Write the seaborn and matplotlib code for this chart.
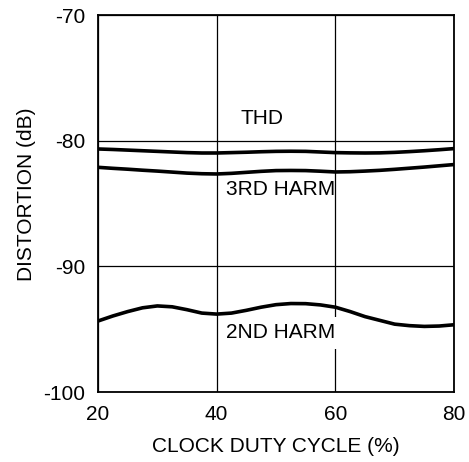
import matplotlib
matplotlib.use("Agg")
import matplotlib.pyplot as plt
import seaborn as sns
import pandas as pd

duty_cycle = [20, 22.5, 25, 27.5, 30, 32.5, 35, 37.5, 40, 42.5, 45, 47.5, 50,
              52.5, 55, 57.5, 60, 62.5, 65, 67.5, 70, 72.5, 75, 77.5, 80]
thd = [-80.66, -80.7, -80.75, -80.8, -80.85, -80.9, -80.95, -80.98, -80.98, -80.95, -80.92, -80.88, -80.85,
       -80.84, -80.85, -80.9, -80.95, -80.97, -80.98, -80.97, -80.93, -80.87, -80.8, -80.72, -80.63]
harm3 = [-82.12, -82.2, -82.27, -82.35, -82.42, -82.5, -82.58, -82.63, -82.65, -82.6, -82.52, -82.44, -82.38,
         -82.37, -82.38, -82.43, -82.49, -82.47, -82.42, -82.36, -82.28, -82.19, -82.1, -82.0, -81.9]
harm2 = [-94.35, -93.95, -93.6, -93.3, -93.15, -93.22, -93.45, -93.72, -93.8, -93.72, -93.5, -93.25, -93.05,
         -92.96, -92.97, -93.07, -93.25, -93.6, -94.0, -94.3, -94.6, -94.72, -94.78, -94.75, -94.65]

series_names = ["THD", "3RD HARM", "2ND HARM"]
x_ticks = [20, 40, 60, 80]
y_ticks = [-100, -90, -80, -70]

df = pd.concat([
    pd.DataFrame({"duty": duty_cycle, "dist": vals, "series": name})
    for name, vals in zip(series_names, [thd, harm3, harm2])
])

sns.set_style("white")
plt.rcParams['font.family'] = ['Liberation Sans', 'DejaVu Sans']
plt.rcParams['axes.unicode_minus'] = False
plt.rcParams['text.color'] = 'black'
plt.rcParams['axes.labelcolor'] = 'black'

fig = plt.figure(figsize=(4.69, 4.62), dpi=100)
ax = fig.add_axes([0.209, 0.1515, 0.759, 0.816])

sns.lineplot(data=df, x="duty", y="dist", hue="series",
             palette=["black"] * 3, linewidth=2.6, legend=False,
             ax=ax, zorder=5)

ax.set_xlim(20, 80)
ax.set_ylim(-100, -70)
ax.set_xticks(x_ticks)
ax.set_yticks(y_ticks)
ax.grid(True, color="black", linewidth=0.9, zorder=1)
ax.tick_params(length=0, labelsize=15, pad=9, colors="black")
for s in ax.spines.values():
    s.set_color("black")
    s.set_linewidth(1.3)

ax.set_xlabel("CLOCK DUTY CYCLE (%)", fontsize=15, labelpad=10)
ax.set_ylabel("DISTORTION (dB)", fontsize=15)
ax.yaxis.set_label_coords(-0.175, 0.525)

ax.text(47.7, -78.2, "THD", fontsize=15, ha="center", va="center", zorder=3)
ax.text(50.7, -83.9, "3RD HARM", fontsize=15, ha="center", va="center", zorder=3)
ax.text(50.85, -95.3, "2ND HARM", fontsize=15, ha="center", va="center", zorder=3,
        bbox=dict(facecolor="white", edgecolor="none", pad=5))

fig.savefig("out.png", dpi=100)
